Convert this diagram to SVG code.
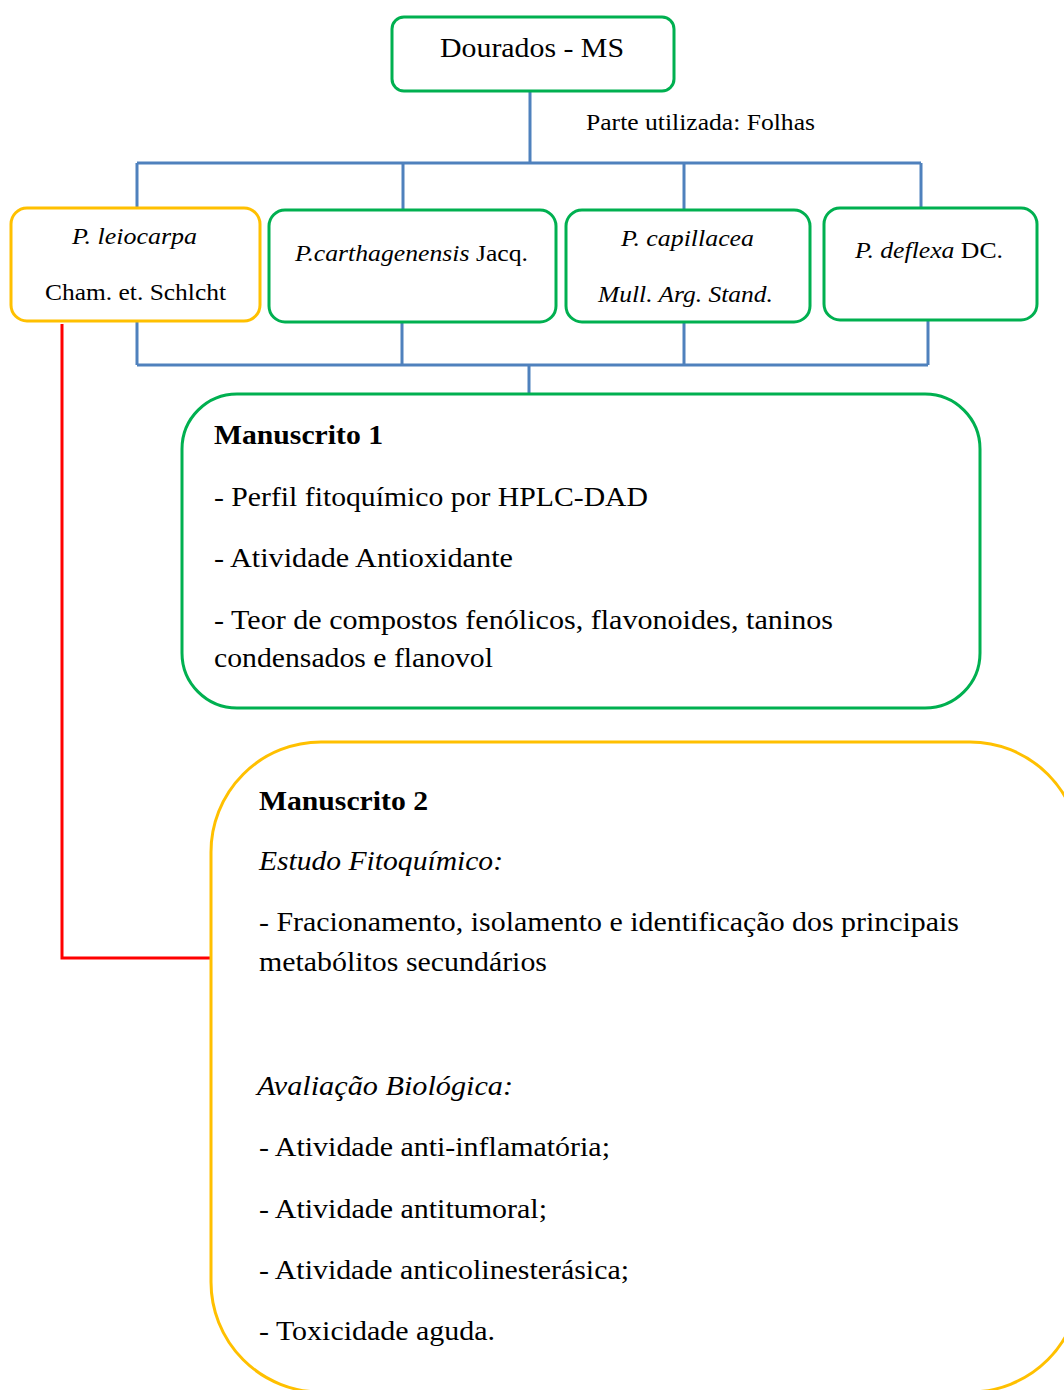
<svg xmlns="http://www.w3.org/2000/svg" width="1064" height="1390" viewBox="0 0 1064 1390">
<style>
.g{fill:#fff;stroke:#00B050;stroke-width:3}
.o{fill:#fff;stroke:#FFC000;stroke-width:3}
.b{fill:none;stroke:#4F81BD;stroke-width:3}
.r{fill:none;stroke:#FF0000;stroke-width:3}
text{font-family:'Liberation Serif','Tinos','Times New Roman','DejaVu Serif','Noto Serif',serif;fill:#000}
.s{font-size:23px}
.t{font-size:27px}
.h{font-size:27px;font-weight:bold}
.i{font-style:italic}
</style>
<rect width="1064" height="1390" fill="#fff"/>
<g id="connectors">
<path class="b" d="M530 91V163M137 163H921M137 163V207M403 163V210M684 163V210M921 163V207"/>
<path class="b" d="M137 321V365M402 322V365M684 322V365M928 320V365M137 365H928M529 365V394"/>
<path class="r" d="M62 324V958H211"/>
</g>
<g font-family="Liberation Serif, Times New Roman, DejaVu Serif, serif">
<g id="dourados">
<rect class="g" x="392" y="17" width="282" height="74" rx="12"/>
<text class="t" x="532" y="57" text-anchor="middle" textLength="184" lengthAdjust="spacingAndGlyphs">Dourados - MS</text>
</g>
<g id="parte">
<text class="s" x="586" y="130" textLength="229" lengthAdjust="spacingAndGlyphs">Parte utilizada: Folhas</text>
</g>
<g id="leiocarpa">
<rect class="o" x="11" y="208" width="249" height="113" rx="16"/>
<text class="s i" x="72" y="244" textLength="125" lengthAdjust="spacingAndGlyphs">P. leiocarpa</text>
<text class="s" x="45" y="300" textLength="181" lengthAdjust="spacingAndGlyphs">Cham. et. Schlcht</text>
</g>
<g id="carthagenensis">
<rect class="g" x="269" y="210" width="287" height="112" rx="16"/>
<text class="s" x="295" y="261" textLength="233" lengthAdjust="spacingAndGlyphs"><tspan class="i">P.carthagenensis</tspan> Jacq.</text>
</g>
<g id="capillacea">
<rect class="g" x="566" y="210" width="244" height="112" rx="16"/>
<text class="s i" x="621" y="246" textLength="133" lengthAdjust="spacingAndGlyphs">P. capillacea</text>
<text class="s i" x="598" y="302" textLength="175" lengthAdjust="spacingAndGlyphs">Mull. Arg. Stand.</text>
</g>
<g id="deflexa">
<rect class="g" x="824" y="208" width="213" height="112" rx="16"/>
<text class="s" x="855" y="258" textLength="148" lengthAdjust="spacingAndGlyphs"><tspan class="i">P. deflexa</tspan> DC.</text>
</g>
<g id="manuscrito1">
<rect class="g" x="182" y="394" width="798" height="314" rx="55"/>
<text class="h" x="214" y="444" textLength="169" lengthAdjust="spacingAndGlyphs">Manuscrito 1</text>
<text class="t" x="214" y="506" textLength="434" lengthAdjust="spacingAndGlyphs">- Perfil fitoquímico por HPLC-DAD</text>
<text class="t" x="214" y="567" textLength="299" lengthAdjust="spacingAndGlyphs">- Atividade Antioxidante</text>
<text class="t" x="214" y="629" textLength="619" lengthAdjust="spacingAndGlyphs">- Teor de compostos fenólicos, flavonoides, taninos</text>
<text class="t" x="214" y="667" textLength="279" lengthAdjust="spacingAndGlyphs">condensados e flanovol</text>
</g>
<g id="manuscrito2">
<rect class="o" x="211" y="742" width="869" height="650" rx="110"/>
<text class="h" x="259" y="810" textLength="169" lengthAdjust="spacingAndGlyphs">Manuscrito 2</text>
<text class="t i" x="259" y="870" textLength="244" lengthAdjust="spacingAndGlyphs">Estudo Fitoquímico:</text>
<text class="t" x="259" y="931" textLength="700" lengthAdjust="spacingAndGlyphs">- Fracionamento, isolamento e identificação dos principais</text>
<text class="t" x="259" y="971" textLength="288" lengthAdjust="spacingAndGlyphs">metabólitos secundários</text>
<text class="t i" x="257" y="1095" textLength="256" lengthAdjust="spacingAndGlyphs">Avaliação Biológica:</text>
<text class="t" x="259" y="1156" textLength="351" lengthAdjust="spacingAndGlyphs">- Atividade anti-inflamatória;</text>
<text class="t" x="259" y="1218" textLength="288" lengthAdjust="spacingAndGlyphs">- Atividade antitumoral;</text>
<text class="t" x="259" y="1279" textLength="370" lengthAdjust="spacingAndGlyphs">- Atividade anticolinesterásica;</text>
<text class="t" x="259" y="1340" textLength="236" lengthAdjust="spacingAndGlyphs">- Toxicidade aguda.</text>
</g>
</g>
</svg>
